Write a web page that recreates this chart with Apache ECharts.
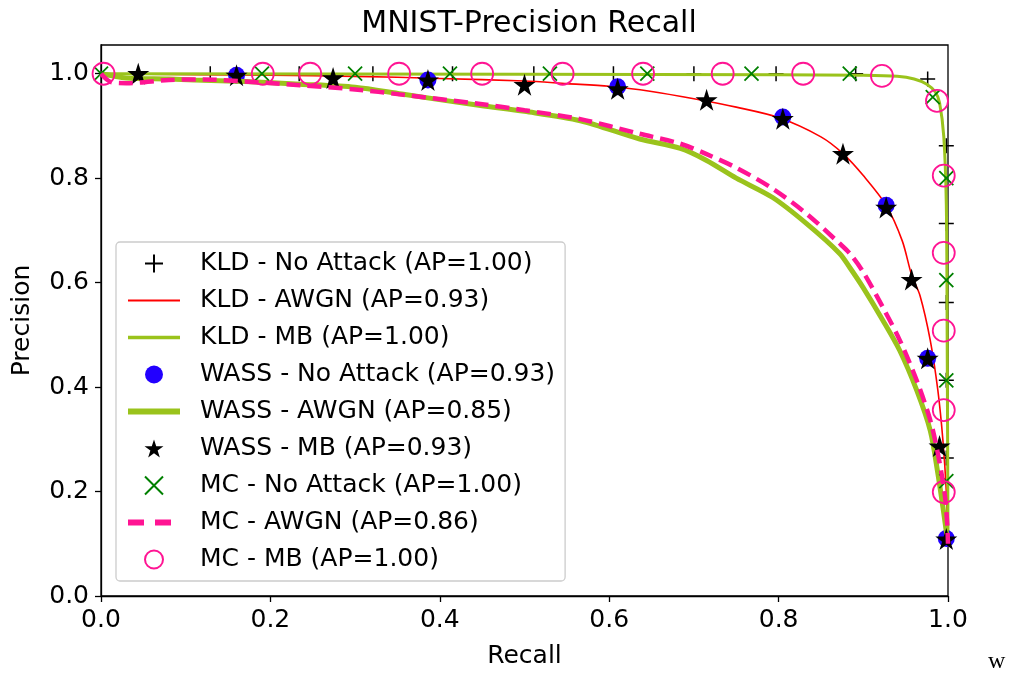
<!DOCTYPE html>
<html>
<head>
<meta charset="utf-8">
<script src="https://cdn.jsdelivr.net/npm/echarts@6/dist/echarts.min.js"></script>
<style>
html,body{margin:0;padding:0;background:#fff;}
#chart{width:1012px;height:679px;}
</style>
</head>
<body>
<div id="chart"></div>
<script>
// ---- data (recall, precision) ----
const xTicks = [0, 0.2, 0.4, 0.6, 0.8, 1.0];
const yTicks = [0, 0.2, 0.4, 0.6, 0.8, 1.0];

const kldNoAttack = [[0.129,1.0],[0.234,1.0],[0.321,1.0],[0.415,1.0],[0.511,1.0],[0.605,1.0],[0.7,1.0],[0.797,1.0],[0.891,1.0],[0.976,0.99],
  [0.998,0.862],[0.998,0.713],[0.998,0.562],[0.998,0.413],[0.998,0.264],[0.998,0.113]];

const kldAwgn = [[0,1.0],[0.2,0.997],[0.3,0.995],[0.4,0.991],[0.5,0.986],[0.55,0.981],[0.6,0.976],[0.65,0.966],[0.7,0.952],
  [0.75,0.936],[0.8,0.916],[0.85,0.879],[0.876,0.847],[0.9,0.805],[0.927,0.748],[0.946,0.68],[0.957,0.615],[0.967,0.575],
  [0.979,0.49],[0.988,0.394],[0.994,0.298],[0.998,0.2],[1.0,0.1]];

const kldMb = [[0,1.0],[0.5,0.999],[0.8,0.998],[0.9,0.997],[0.94,0.995],[0.96,0.99],[0.975,0.98],[0.985,0.965],[0.99,0.945],
  [0.995,0.88],[0.998,0.75],[0.999,0.5],[1.0,0.1]];

const wassNoAttack = [[0.16,0.997],[0.386,0.988],[0.61,0.975],[0.805,0.917],[0.927,0.748],[0.976,0.455],[0.998,0.11]];

const wassAwgn = [[0,1.0],[0.03,0.992],[0.08,0.99],[0.11,0.988],[0.17,0.985],[0.235,0.98],[0.3,0.974],[0.355,0.961],
  [0.448,0.939],[0.5,0.928],[0.566,0.91],[0.636,0.875],[0.684,0.857],[0.715,0.834],[0.75,0.8],[0.793,0.763],[0.833,0.713],
  [0.872,0.656],[0.884,0.629],[0.9,0.59],[0.923,0.528],[0.943,0.47],[0.963,0.394],[0.979,0.317],[0.988,0.235],[0.994,0.17],[1.0,0.1]];

const wassMb = [[0.044,1.0],[0.16,0.997],[0.274,0.992],[0.386,0.988],[0.5,0.979],[0.61,0.971],[0.715,0.95],[0.805,0.914],
  [0.876,0.847],[0.927,0.744],[0.957,0.606],[0.976,0.455],[0.99,0.287],[0.998,0.109]];

const mcNoAttack = [[0.0,1.0],[0.19,1.0],[0.30,1.0],[0.412,1.0],[0.53,1.0],[0.645,1.0],[0.768,1.0],[0.884,1.0],[0.982,0.955],
  [0.998,0.80],[0.998,0.605],[0.998,0.413],[0.998,0.22]];

const mcAwgn = [[0,1.0],[0.012,0.984],[0.03,0.982],[0.08,0.988],[0.12,0.989],[0.17,0.985],[0.235,0.978],[0.3,0.97],[0.355,0.96],
  [0.448,0.942],[0.5,0.93],[0.566,0.913],[0.636,0.885],[0.684,0.866],[0.715,0.846],[0.75,0.82],[0.793,0.78],[0.833,0.732],
  [0.872,0.675],[0.884,0.656],[0.9,0.62],[0.923,0.553],[0.943,0.49],[0.963,0.413],[0.979,0.337],[0.988,0.273],[0.996,0.197],
  [0.999,0.14],[1.0,0.1]];

const mcMb = [[0.003,1.0],[0.191,1.0],[0.247,1.0],[0.352,1.0],[0.45,1.0],[0.545,1.0],[0.64,1.0],[0.734,1.0],[0.829,1.0],
  [0.922,0.996],[0.987,0.948],[0.995,0.805],[0.995,0.657],[0.995,0.508],[0.995,0.356],[0.995,0.199]];

const names = ['KLD - No Attack (AP=1.00)','KLD - AWGN (AP=0.93)','KLD - MB (AP=1.00)','WASS - No Attack (AP=0.93)',
  'WASS - AWGN (AP=0.85)','WASS - MB (AP=0.93)','MC - No Attack (AP=1.00)','MC - AWGN (AP=0.86)','MC - MB (AP=1.00)'];

// ---- styling ----
const FONT = 'DejaVu Sans';
const GREEN = '#9ac31c';
const PINK = '#ff1493';
const STAR = 'path://M50,0 L61.2,34.5 L97.6,34.5 L68.2,55.9 L79.4,90.5 L50,69.1 L20.6,90.5 L31.8,55.9 L2.4,34.5 L38.8,34.5 Z';
const PLUS = 'path://M5,0 L5,10 M0,5 L10,5';
const CROSS = 'path://M0,0 L10,10 M10,0 L0,10';

const chart = echarts.init(document.getElementById('chart'), null, {renderer:'canvas'});
const fmt = v => (v > 1.0001 ? '' : v.toFixed(1));
const hideSym = {opacity: 0};

const lineBase = {type: 'line', symbol: 'none', smooth: 0.3, clip: true};

const option = {
  backgroundColor: '#fff',
  animation: false,
  title: {
    text: 'MNIST-Precision Recall', left: 524, top: 4, textAlign: 'center',
    textStyle: {fontFamily: FONT, fontSize: 30, fontWeight: 'normal', color: '#000'}
  },
  grid: {left: 101, right: 64, top: 45, bottom: 83, show: true, borderColor: '#000', borderWidth: 1.3, backgroundColor: 'transparent'},
  xAxis: {
    type: 'value', min: xTicks[0], max: xTicks[xTicks.length-1], interval: 0.2,
    name: 'Recall', nameLocation: 'middle', nameGap: 48,
    nameTextStyle: {fontFamily: FONT, fontSize: 25, color: '#000'},
    axisLine: {show: true, onZero: false, lineStyle: {color: '#000', width: 1.3}},
    axisTick: {show: true, length: 6, lineStyle: {color: '#000', width: 1.3}},
    axisLabel: {formatter: fmt, fontFamily: FONT, fontSize: 25, color: '#000', margin: 12},
    splitLine: {show: false}
  },
  yAxis: {
    type: 'value', min: yTicks[0], max: 1.055, interval: 0.2,
    name: 'Precision', nameLocation: 'middle', nameGap: 66,
    nameTextStyle: {fontFamily: FONT, fontSize: 25, color: '#000'},
    axisLine: {show: true, onZero: false, lineStyle: {color: '#000', width: 1.3}},
    axisTick: {show: true, length: 6, lineStyle: {color: '#000', width: 1.3}},
    axisLabel: {formatter: fmt, fontFamily: FONT, fontSize: 25, color: '#000', margin: 12, showMaxLabel: false},
    splitLine: {show: false}
  },
  legend: {
    orient: 'vertical', left: 116, top: 242,
    padding: [9, 10, 9, 9],
    itemWidth: 52, itemHeight: 18, itemGap: 12,
    backgroundColor: 'rgba(255,255,255,0.85)', borderColor: '#cccccc', borderWidth: 1.3, borderRadius: 4,
    textStyle: {fontFamily: FONT, fontSize: 25, color: '#000', lineHeight: 25, padding: [0, 0, 0, 15]},
    data: [
      {name: names[0]},
      {name: names[1], itemStyle: hideSym, lineStyle: {color: '#ff0000', width: 2}},
      {name: names[2], itemStyle: hideSym, lineStyle: {color: GREEN, width: 3.5}},
      {name: names[3]},
      {name: names[4], itemStyle: hideSym, lineStyle: {color: GREEN, width: 6}},
      {name: names[5]},
      {name: names[6]},
      {name: names[7], itemStyle: hideSym, lineStyle: {color: PINK, width: 6, type: [16, 11]}},
      {name: names[8]}
    ]
  },
  graphic: [{
    type: 'text', left: 988, top: 650,
    style: {text: 'w', font: '24px "Liberation Serif"', fill: '#000'}
  }],
  series: [
    {name: names[0], type: 'scatter', data: kldNoAttack, symbol: PLUS, symbolSize: 15, z: 2,
     itemStyle: {color: 'rgba(0,0,0,0)', borderColor: '#000', borderWidth: 1.5, opacity: 1}},
    Object.assign({name: names[1], data: kldAwgn, z: 3, lineStyle: {color: '#ff0000', width: 1.6}, itemStyle: {color: '#ff0000'}}, lineBase),
    Object.assign({name: names[2], data: kldMb, z: 4, lineStyle: {color: GREEN, width: 3}, itemStyle: {color: GREEN}}, lineBase),
    {name: names[3], type: 'scatter', data: wassNoAttack, symbol: 'circle', symbolSize: 17, z: 5, itemStyle: {color: '#2200ff', opacity: 1}},
    Object.assign({name: names[4], data: wassAwgn, z: 6, lineStyle: {color: GREEN, width: 5}, itemStyle: {color: GREEN}}, lineBase),
    {name: names[5], type: 'scatter', data: wassMb, symbol: STAR, symbolSize: 22, z: 7, itemStyle: {color: '#000', opacity: 1}},
    {name: names[6], type: 'scatter', data: mcNoAttack, symbol: CROSS, symbolSize: 14, z: 8,
     itemStyle: {color: 'rgba(0,0,0,0)', borderColor: '#008000', borderWidth: 1.8, opacity: 1}},
    Object.assign({name: names[7], data: mcAwgn, z: 9, lineStyle: {color: PINK, width: 4.5, type: [14, 7]}, itemStyle: {color: PINK}}, lineBase),
    {name: names[8], type: 'scatter', data: mcMb, symbol: 'circle', symbolSize: 22, z: 10,
     itemStyle: {color: 'rgba(0,0,0,0)', borderColor: PINK, borderWidth: 1.8, opacity: 1}}
  ]
};
chart.setOption(option);
</script>
</body>
</html>
